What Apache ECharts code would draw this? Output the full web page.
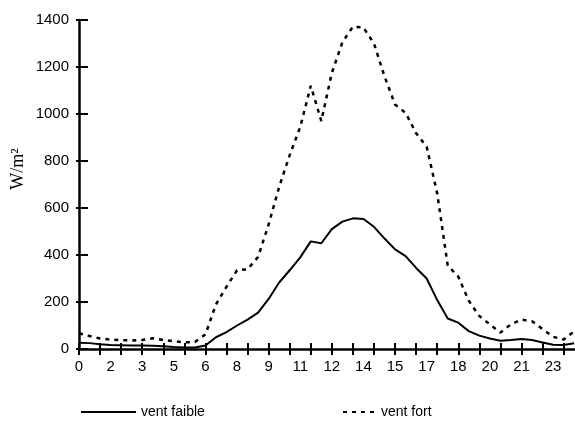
<!DOCTYPE html>
<html><head><meta charset="utf-8">
<script src="https://cdn.jsdelivr.net/npm/echarts@6/dist/echarts.min.js"></script>
<style>html,body{margin:0;padding:0;background:#fff}#c{width:575px;height:423px}</style>
</head><body><div id="c"></div>
<script>
const hours = [0,0.5,1,1.5,2,2.5,3,3.5,4,4.5,5,5.5,6,6.5,7,7.5,8,8.5,9,9.5,10,10.5,11,11.5,12,12.5,13,13.5,14,14.5,15,15.5,16,16.5,17,17.5,18,18.5,19,19.5,20,20.5,21,21.5,22,22.5,23,23.5];
const ventFaible = [27,25,20,17,16,15,15,14,12,8,6,6,15,50,72,100,125,155,213,283,335,390,458,450,510,542,556,553,520,470,424,395,345,300,208,130,112,76,57,45,35,38,43,38,28,18,17,24];
const ventFort = [67,55,45,40,38,36,38,46,38,33,28,30,62,190,265,335,339,392,530,690,825,945,1120,970,1175,1305,1372,1368,1300,1160,1040,1005,918,861,662,355,308,205,140,105,70,105,125,118,85,52,40,75];
const tickHours = [0,1,2,3,4,5,6,7,8,9,10,11,12,13,14,15,16,17,18,19,20,21,22,23];
const labelHours = [0,1.5,3,4.5,6,7.5,9,10.5,12,13.5,15,16.5,18,19.5,21,22.5];
const tickLabels = ['0','2','3','5','6','8','9','11','12','14','15','17','18','20','21','23'];
const yMin = 0, yMax = 1400, yStep = 200;
const seriesNames = ['vent faible', 'vent fort'];

const pairs = (vals) => hours.map((h, i) => [h, vals[i]]);
const sans = 'Liberation Sans';

const chart = echarts.init(document.getElementById('c'), null, {renderer: 'canvas'});
const xBase = {
  type: 'value', min: 0, max: 23.54, position: 'bottom',
  splitLine: {show: false}
};
const yBase = {
  type: 'value', min: yMin, max: yMax, interval: yStep, position: 'left',
  splitLine: {show: false}
};
chart.setOption({
  animation: false,
  backgroundColor: '#fff',
  grid: {left: 79, right: 0, top: 20, bottom: 74, outerBoundsMode: 'none', containLabel: false},
  xAxis: [
    Object.assign({}, xBase, {
      axisLine: {show: true, onZero: false, lineStyle: {color: '#000', width: 2.5}},
      axisTick: {show: true, inside: true, length: 6, customValues: tickHours, lineStyle: {color: '#000', width: 2}},
      axisLabel: {show: true, customValues: labelHours, margin: 10, color: '#000', fontFamily: sans, fontSize: 15,
        formatter: (v) => tickLabels[Math.round(v / 1.5)]}
    }),
    Object.assign({}, xBase, {
      axisLine: {show: false, onZero: false},
      axisTick: {show: true, inside: false, length: 6, customValues: tickHours, lineStyle: {color: '#000', width: 2}},
      axisLabel: {show: false}
    })
  ],
  yAxis: [
    Object.assign({}, yBase, {
      axisLine: {show: true, onZero: false, lineStyle: {color: '#000', width: 2.5}},
      axisTick: {show: true, inside: true, length: 9, lineStyle: {color: '#000', width: 2}},
      axisLabel: {show: true, margin: 10, color: '#000', fontFamily: sans, fontSize: 15, formatter: (v) => String(v)}
    }),
    Object.assign({}, yBase, {
      axisLine: {show: false, onZero: false},
      axisTick: {show: true, inside: false, length: 3, lineStyle: {color: '#000', width: 2}},
      axisLabel: {show: false}
    })
  ],
  graphic: [{
    type: 'text', x: 18, y: 169, rotation: Math.PI / 2,
    style: {text: 'W/m²', fontFamily: 'Liberation Serif', fontSize: 18, fill: '#000', align: 'center', verticalAlign: 'middle'}
  }],
  legend: [
    {data: [seriesNames[0]], left: 80, top: 405, padding: 0, itemWidth: 55, itemHeight: 14, itemGap: 0,
      itemStyle: {opacity: 0}, textStyle: {color: '#000', fontFamily: sans, fontSize: 14}},
    {data: [seriesNames[1]], left: 342, top: 405, padding: 0, itemWidth: 33, itemHeight: 14, itemGap: 0,
      itemStyle: {opacity: 0}, textStyle: {color: '#000', fontFamily: sans, fontSize: 14}}
  ],
  series: [
    {name: seriesNames[0], type: 'line', data: pairs(ventFaible), symbol: 'none', xAxisIndex: 0, yAxisIndex: 0,
      lineStyle: {color: '#000', width: 2}, itemStyle: {color: '#000'}},
    {name: seriesNames[1], type: 'line', data: pairs(ventFort), symbol: 'none', xAxisIndex: 0, yAxisIndex: 0,
      lineStyle: {color: '#000', width: 2.5, type: [4, 5]}, itemStyle: {color: '#000'}}
  ]
});
</script></body></html>
